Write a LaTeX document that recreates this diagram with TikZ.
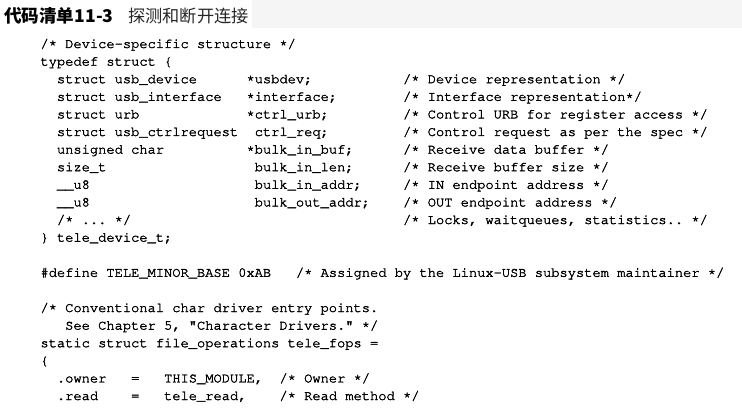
\documentclass[tikz,border=0pt]{standalone}
\usepackage[T1,TU]{fontenc}
\usepackage{fontspec}
\newfontfamily\cjk{Noto Sans CJK SC}
\newcommand\codefont{\fontencoding{T1}\fontfamily{pcr}\fontseries{m}\fontshape{n}\fontsize{13.73}{16}\selectfont\frenchspacing\special{pdf:literal direct 2 Tr 0.3 w}}
\newcommand\st{\raisebox{1.6pt}{*}}
\tikzset{
  code/.style={anchor=base west, inner sep=0pt, outer sep=0pt, font=\codefont, text=black},
  titlebold/.style={anchor=west, inner sep=0pt, font=\cjk\bfseries\fontsize{17.6}{19}\selectfont, text=black},
  titlereg/.style={anchor=west, inner sep=0pt, font=\cjk\fontsize{17.2}{19}\selectfont, text=black!85},
}
\newcommand\cl[4]{\node[code] (#1) at ({40.5+#2*8.24},{48+#3*17.6}) {#4};}
\begin{document}
\begin{tikzpicture}[x=1pt,y=-1pt]
\useasboundingbox (0,0) rectangle (742,409);
% scan shading band at top
\fill[black!4] (252,0) rectangle (742,28);
% title
\node[titlebold] (t1) at (4,16) {代码清单11-3};
\node[titlereg] (t2) at (128,16) {探测和断开连接};
% code
\cl{a0}{0}{0}{/\st{} Device-specific structure \st/}
\cl{a1}{0}{1}{typedef struct \{}
\cl{a2}{2}{2}{struct usb\_device}
\cl{b2}{25}{2}{\st usbdev;}
\cl{c2}{44}{2}{/\st{} Device representation \st/}
\cl{a3}{2}{3}{struct usb\_interface}
\cl{b3}{25}{3}{\st interface;}
\cl{c3}{44}{3}{/\st{} Interface representation\st/}
\cl{a4}{2}{4}{struct urb}
\cl{b4}{25}{4}{\st ctrl\_urb;}
\cl{c4}{44}{4}{/\st{} Control URB for register access \st/}
\cl{a5}{2}{5}{struct usb\_ctrlrequest}
\cl{b5}{26}{5}{ctrl\_req;}
\cl{c5}{44}{5}{/\st{} Control request as per the spec \st/}
\cl{a6}{2}{6}{unsigned char}
\cl{b6}{25}{6}{\st bulk\_in\_buf;}
\cl{c6}{44}{6}{/\st{} Receive data buffer \st/}
\cl{a7}{2}{7}{size\_t}
\cl{b7}{26}{7}{bulk\_in\_len;}
\cl{c7}{44}{7}{/\st{} Receive buffer size \st/}
\cl{a8}{2}{8}{\_\_u8}
\cl{b8}{26}{8}{bulk\_in\_addr;}
\cl{c8}{44}{8}{/\st{} IN endpoint address \st/}
\cl{a9}{2}{9}{\_\_u8}
\cl{b9}{26}{9}{bulk\_out\_addr;}
\cl{c9}{44}{9}{/\st{} OUT endpoint address \st/}
\cl{a10}{2}{10}{/\st{} ... \st/}
\cl{c10}{44}{10}{/\st{} Locks, waitqueues, statistics.. \st/}
\cl{a11}{0}{11}{\} tele\_device\_t;}
\cl{a13}{0}{13}{\#define TELE\_MINOR\_BASE 0xAB}
\cl{c13}{31}{13}{/\st{} Assigned by the Linux-USB subsystem maintainer \st/}
\cl{a15}{0}{15}{/\st{} Conventional char driver entry points.}
\cl{a16}{3}{16}{See Chapter 5, "Character Drivers." \st/}
\cl{a17}{0}{17}{static struct file\_operations tele\_fops =}
\cl{a18}{0}{18}{\{}
\cl{a19}{2}{19}{.owner}
\cl{b19}{11}{19}{=}
\cl{d19}{15}{19}{THIS\_MODULE,}
\cl{c19}{29}{19}{/\st{} Owner \st/}
\cl{a20}{2}{20}{.read}
\cl{b20}{11}{20}{=}
\cl{d20}{15}{20}{tele\_read,}
\cl{c20}{29}{20}{/\st{} Read method \st/}
\end{tikzpicture}
\end{document}
